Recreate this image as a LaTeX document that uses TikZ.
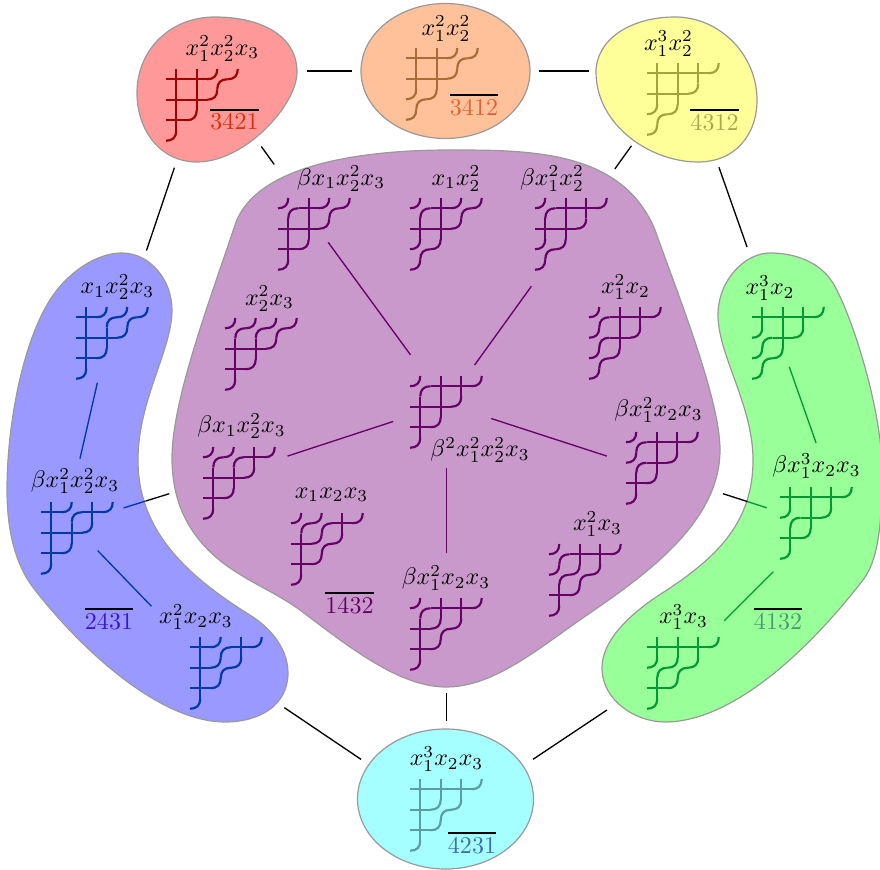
\documentclass[tikz,border=0pt]{standalone}
\usepackage{xcolor}
\usepackage{amsmath}
\usepackage{tikz}
\definecolor{blobline}{RGB}{153,153,153}
\definecolor{blobred}{RGB}{255,153,153}
\definecolor{blobpeach}{RGB}{255,193,153}
\definecolor{blobyellow}{RGB}{255,255,153}
\definecolor{blobblue}{RGB}{153,153,255}
\definecolor{blobpurple}{RGB}{201,153,204}
\definecolor{blobgreen}{RGB}{153,255,153}
\definecolor{blobcyan}{RGB}{166,255,255}
\definecolor{pipered}{RGB}{160,0,0}
\definecolor{pipepeach}{RGB}{168,108,56}
\definecolor{pipeyellow}{RGB}{163,163,61}
\definecolor{pipeblue}{RGB}{0,56,165}
\definecolor{pipepurple}{RGB}{102,0,102}
\definecolor{pipegreen}{RGB}{0,153,51}
\definecolor{pipecyan}{RGB}{90,158,160}
\definecolor{numred}{RGB}{214,50,15}
\definecolor{numpeach}{RGB}{222,100,55}
\definecolor{numyellow}{RGB}{168,168,80}
\definecolor{numblue}{RGB}{60,20,210}
\definecolor{numgreen}{RGB}{77,153,115}
\definecolor{numcyan}{RGB}{62,110,172}
\newdimen\pxu
\pxu=0.4164pt
\tikzset{
  blob/.style={draw=blobline, line width=0.5pt},
  hook/.style={shape=coordinate},
  mono/.style={inner sep=0pt},
  perm/.style={inner sep=0pt},
  pipe/.style={line width=0.9pt},
  link/.style n args={2}{line width=0.55pt, shorten <=#1\pxu, shorten >=#2\pxu},
  pics/c/.style={code={\draw[pipe] (0,.5) -- (1,.5) (.5,0) -- (.5,1);}},
  pics/b/.style={code={\draw[pipe] (0,.5) .. controls (.33,.5) and (.5,.33) .. (.5,0)
                                   (.5,1) .. controls (.5,.67) and (.67,.5) .. (1,.5);}},
  pics/elbow/.style={code={\draw[pipe] (0,.5) .. controls (.33,.5) and (.5,.33) .. (.5,0);}}
}
% name, hook point, top left corner, six cells
\newcommand{\pipedream}[9]{
  \node[hook] (#1) at (#2) {};
  \begin{scope}[shift={(#3)}, x=0.3cm, y=-0.3cm]
    \path (0,0) pic{#4} (1,0) pic{#5} (2,0) pic{#6} (3,0) pic{elbow}
          (0,1) pic{#7} (1,1) pic{#8} (2,1) pic{elbow}
          (0,2) pic{#9} (1,2) pic{elbow}
          (0,3) pic{elbow};
  \end{scope}
}
\newcommand{\barnum}[2]{\vbox{\hrule height 0.8pt\kern 1.2pt\hbox{\textcolor{#1}{#2}}}}
\begin{document}
\begin{tikzpicture}[x=0.01464cm, y=-0.01464cm]
  \useasboundingbox (0,0) rectangle (880,870);

  % classes
  \draw[blob, fill=blobred] (215,17) .. controls (260,17) and (297,35) .. (297,72)
    .. controls (297,105) and (245,162) .. (197,162)
    .. controls (160,162) and (137,130) .. (137,93)
    .. controls (137,50) and (170,17) .. (215,17) -- cycle;
  \draw[blob, fill=blobpeach] (445.5,71) ellipse [x radius=84.5, y radius=67.5];
  \draw[blob, fill=blobyellow] (675,17) .. controls (720,17) and (757,55) .. (757,100)
    .. controls (757,135) and (735,162) .. (698,162)
    .. controls (650,162) and (596,125) .. (596,72)
    .. controls (596,40) and (630,17) .. (675,17) -- cycle;
  \draw[blob, fill=blobcyan] (445.5,799) ellipse [x radius=88, y radius=70];
  \draw[blob, fill=blobblue] (122,253) .. controls (150,253) and (172,280) .. (172,310)
    .. controls (172,350) and (138,400) .. (138,460)
    .. controls (138,530) and (185,575) .. (253,617)
    .. controls (275,632) and (288,652) .. (288,673)
    .. controls (288,705) and (260,722) .. (225,722)
    .. controls (165,722) and (90,660) .. (35,590)
    .. controls (15,565) and (7,530) .. (7,490)
    .. controls (7,420) and (25,330) .. (57,290)
    .. controls (72,271) and (97,253) .. (122,253) -- cycle;
  \draw[blob, fill=blobgreen] (770,253) .. controls (745,253) and (718,280) .. (718,315)
    .. controls (718,355) and (753,405) .. (753,460)
    .. controls (753,520) and (720,555) .. (667,590)
    .. controls (630,613) and (602,640) .. (602,668)
    .. controls (602,700) and (635,722) .. (665,722)
    .. controls (730,722) and (805,655) .. (863,580)
    .. controls (880,558) and (882,515) .. (882,470)
    .. controls (882,410) and (852,315) .. (833,283)
    .. controls (820,262) and (795,253) .. (770,253) -- cycle;
  \draw[blob, fill=blobpurple] (450,150) .. controls (530,150) and (622,150) .. (655,230)
    .. controls (680,300) and (720,400) .. (720,450)
    .. controls (720,520) and (650,572) .. (590,613)
    .. controls (540,647) and (495,687) .. (446,687)
    .. controls (400,687) and (350,648) .. (300,610)
    .. controls (275,592) and (250,583) .. (223,563)
    .. controls (195,541) and (172,510) .. (172,458)
    .. controls (172,400) and (210,300) .. (235,225)
    .. controls (255,165) and (360,150) .. (450,150) -- cycle;

  % pipe dreams
  \begin{scope}[color=pipered]
    \pipedream{red}{207,71}{166,69}ccbccc
  \end{scope}
  \begin{scope}[color=pipepeach]
    \pipedream{peach}{446.5,71}{406,48}ccbccb
  \end{scope}
  \begin{scope}[color=pipeyellow]
    \pipedream{yellow}{685,71}{647,63}cccccb
  \end{scope}
  \begin{scope}[color=pipecyan]
    \pipedream{cyan}{446.5,817}{410,779}ccccbc
  \end{scope}
  \begin{scope}[color=pipeblue]
    \pipedream{bluetop}{119,332}{76,307}cbbccc
    \pipedream{bluemid}{72,524}{41,502}cbcccc
    \pipedream{bluebot}{184,640}{190,637}cbccbc
  \end{scope}
  \begin{scope}[color=pipegreen]
    \pipedream{greentop}{777,332}{752,307}cccbcb
    \pipedream{greenmid}{820,525}{780,487}cccbcc
    \pipedream{greenbot}{691,654}{647,637}cccbbc
  \end{scope}
  \begin{scope}[color=pipepurple]
    \pipedream{hub}{446.5,404}{410,376}bccccc
    \pipedream{upleft}{314,223}{278,198}bcbccc
    \pipedream{upmid}{446,234}{410,198}bcbccb
    \pipedream{upright}{577,223}{535,198}bccccb
    \pipedream{sideup}{261,354}{225,318}bbbccc
    \pipedream{sideright}{625,343}{589,307}bccbcb
    \pipedream{left}{239,472}{203,447}bbcccc
    \pipedream{right}{662,474}{626,432}bccbcc
    \pipedream{lowleft}{327,549}{291,513}bbccbc
    \pipedream{lowright}{585,580}{549,544}bccbbc
    \pipedream{bottom}{446.5,623}{410,598}bcccbc
  \end{scope}

  % monomials
  \node[mono] (redname) at (222.5,48.5) {$x_1^2x_2^2x_3$};
  \node[mono] (peachname) at (446,28.5) {$x_1^2x_2^2$};
  \node[mono] (yellowname) at (668.5,43.5) {$x_1^3x_2^2$};
  \node[mono] (cyanname) at (446.5,759) {$x_1^3x_2x_3$};
  \node[mono] (bluetopname) at (117.5,287) {$x_1x_2^2x_3$};
  \node[mono] (bluemidname) at (75,481) {$\beta x_1^2x_2^2x_3$};
  \node[mono] (bluebotname) at (196,617) {$x_1^2x_2x_3$};
  \node[mono] (greentopname) at (770,288) {$x_1^3x_2$};
  \node[mono] (greenmidname) at (816.5,466) {$\beta x_1^3x_2x_3$};
  \node[mono] (greenbotname) at (683.5,617) {$x_1^3x_3$};
  \node[mono] (hubname) at (480,450) {$\beta^2x_1^2x_2^2x_3$};
  \node[mono] (upleftname) at (341,178.5) {$\beta x_1x_2^2x_3$};
  \node[mono] (upmidname) at (456,178.5) {$x_1x_2^2$};
  \node[mono] (uprightname) at (552,178.5) {$\beta x_1^2x_2^2$};
  \node[mono] (sideupname) at (269.5,298.5) {$x_2^2x_3$};
  \node[mono] (siderightname) at (625.5,287) {$x_1^2x_2$};
  \node[mono] (leftname) at (241.5,426) {$\beta x_1x_2^2x_3$};
  \node[mono] (rightname) at (658.5,410) {$\beta x_1^2x_2x_3$};
  \node[mono] (lowleftname) at (331.5,495) {$x_1x_2x_3$};
  \node[mono] (lowrightname) at (597.5,524) {$x_1^2x_3$};
  \node[mono] (bottomname) at (446,578) {$\beta x_1^2x_2x_3$};

  % permutations
  \node[perm] (perm3421) at (234.5,119.5) {\barnum{numred}{3421}};
  \node[perm] (perm3412) at (474,105) {\barnum{numpeach}{3412}};
  \node[perm] (perm4312) at (714.5,120) {\barnum{numyellow}{4312}};
  \node[perm] (perm4231) at (472,843) {\barnum{numcyan}{4231}};
  \node[perm] (perm2431) at (109,619) {\barnum{numblue}{2431}};
  \node[perm] (perm4132) at (778,619) {\barnum{numgreen}{4132}};
  \node[perm] (perm1432) at (349.5,603) {\barnum{pipepurple}{1432}};

  % around the outside
  \draw[link={100}{94}] (red.center) -- (peach.center);
  \draw[link={92}{96}] (peach.center) -- (yellow.center);
  \draw[link={102}{86}] (red.center) -- (bluetop.center);
  \draw[link={102}{90}] (yellow.center) -- (greentop.center);
  \draw[link={121}{103}] (bluebot.center) -- (cyan.center);
  \draw[link={104}{101}] (cyan.center) -- (greenbot.center);

  % into the big class
  \draw[link={93}{295}] (red.center) -- (hub.center);
  \draw[link={92}{289}] (yellow.center) -- (hub.center);
  \draw[link={289}{96}] (hub.center) -- (cyan.center);
  \draw[link={73}{77}] (left.center) -- (bluemid.center);
  \draw[link={64}{76}] (right.center) -- (greenmid.center);

  % same link, inside the side classes
  \draw[link={98}{54}, pipeblue] (left.center) -- (bluemid.center);
  \draw[link={90}{56}, pipegreen] (right.center) -- (greenmid.center);

  % blue class
  \draw[link={52}{67}, pipeblue] ([xshift=-10\pxu]bluetop.center) -- ([xshift=-7\pxu]bluemid.center);
  \draw[link={37}{47}, pipeblue] (bluemid.center) -- (bluebot.center);

  % green class
  \draw[link={37}{87}, pipegreen] (greentop.center) -- ([xshift=25\pxu]greenmid.center);
  \draw[link={66}{47}, pipegreen] (greenmid.center) -- (greenbot.center);

  % big class
  \draw[link={61}{24}, pipepurple] (hub.center) -- (upleft.center);
  \draw[link={48}{78}, pipepurple] (hub.center) -- (upright.center);
  \draw[link={56}{51}, pipepurple] (hub.center) -- (left.center);
  \draw[link={47}{58}, pipepurple] (hub.center) -- (right.center);
  \draw[link={64}{70}, pipepurple] (hub.center) -- (bottom.center);
\end{tikzpicture}
\end{document}
